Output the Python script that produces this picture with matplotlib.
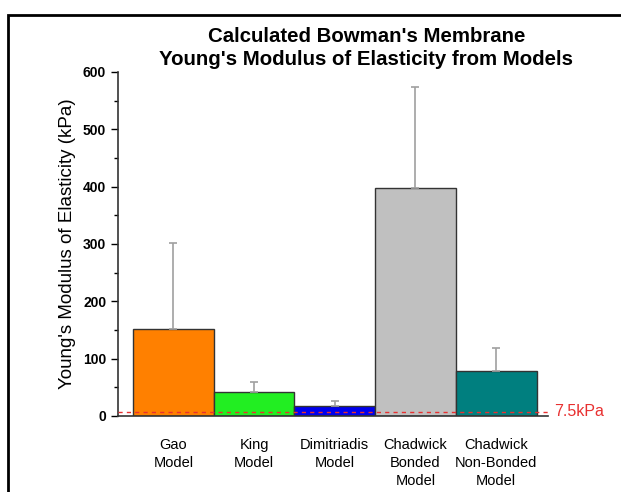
import numpy as np
from matplotlib import pyplot as plt
from matplotlib.patches import Rectangle

# 数据
models = ["Gao\nModel", "King\nModel", "Dimitriadis\nModel",
          "Chadwick\nBonded\nModel", "Chadwick\nNon-Bonded\nModel"]
modulus = [152, 42, 17, 398, 79]
errors = [150, 17, 9, 176, 40]
colors = ["#FF8000", "#22EE22", "#0000EE", "#C0C0C0", "#007F7F"]
ref_value = 7.5

plt.rcParams['font.family'] = ['Liberation Sans', 'DejaVu Sans']

fig = plt.figure(figsize=(6.21, 4.92), dpi=100)
ax = fig.add_axes([0.190, 0.1545, 0.692, 0.6992])

# 外框
fig.patches.append(Rectangle((8 / 621, -0.1), 1.2, 1 - 15 / 492 + 0.1,
                             transform=fig.transFigure, fill=False,
                             edgecolor='black', linewidth=2))

x = np.arange(len(models))
ax.bar(x, modulus, width=1.0, color=colors, edgecolor='#333333', linewidth=1.0,
       yerr=[np.zeros(len(errors)), errors],
       error_kw=dict(ecolor='#A0A0A0', elinewidth=1.2, capsize=3, capthick=1.2), zorder=2)

ax.axhline(ref_value, color='#E83030', linestyle=(0, (3, 3)), linewidth=1, zorder=3)
ax.text(4.72, ref_value, "7.5kPa", color='#E83030', fontsize=11.5, va='center',
        ha='left', transform=ax.transData, clip_on=False)

ax.set_xlim(-0.686, 4.639)
ax.set_ylim(0, 600)
ax.set_yticks(np.arange(0, 601, 100))
ax.set_yticks(np.arange(0, 601, 50), minor=True)
ax.set_xticks(x)
ax.set_xticklabels(models, fontsize=10.5, linespacing=1.35)
ax.tick_params(axis='x', length=0, pad=16)
ax.tick_params(axis='y', which='major', length=5, width=1, labelsize=10)
ax.tick_params(axis='y', which='minor', length=3, width=1)
for lbl in ax.get_yticklabels():
    lbl.set_fontweight('bold')

ax.spines['top'].set_visible(False)
ax.spines['right'].set_visible(False)
ax.spines['left'].set_color('#333333')
ax.spines['bottom'].set_color('#333333')
ax.spines['left'].set_linewidth(1.2)
ax.spines['bottom'].set_linewidth(1.2)

ax.set_ylabel("Young's Modulus of Elasticity (kPa)", fontsize=13.5, labelpad=5)

fig.text(0.59, 0.903, "Calculated Bowman's Membrane\nYoung's Modulus of Elasticity from Models",
         ha='center', va='center', fontsize=14.7, fontweight='bold', linespacing=1.25)

fig.savefig("out.png", dpi=100)
